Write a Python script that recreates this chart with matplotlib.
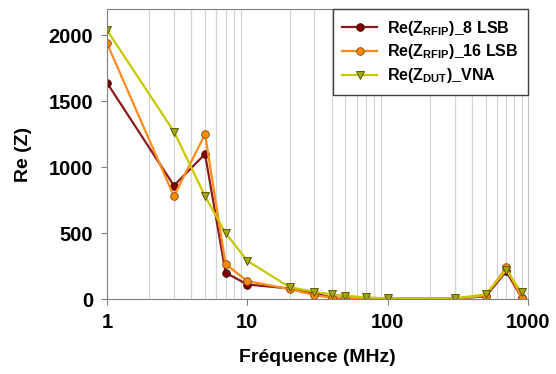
import matplotlib.pyplot as plt
from matplotlib.ticker import FixedLocator, NullFormatter

plt.rcParams['font.family'] = 'Liberation Sans'
plt.rcParams['font.weight'] = 'bold'
plt.rcParams['axes.labelweight'] = 'bold'
plt.rcParams['mathtext.fontset'] = 'custom'
plt.rcParams['mathtext.rm'] = 'Liberation Sans:bold'
plt.rcParams['mathtext.bf'] = 'Liberation Sans:bold'

freq = [1, 3, 5, 7, 10, 20, 30, 40, 50, 70, 100, 300, 500, 700, 900]
re_rfip_8 = [1640, 860, 1100, 200, 110, 80, 45, 10, 8, 5, 4, 4, 20, 210, 10]
re_rfip_16 = [1940, 780, 1250, 265, 136, 75, 30, 10, 10, 5, 3, 3, 25, 240, 8]
re_dut_vna = [2040, 1270, 780, 500, 290, 90, 55, 35, 25, 12, 5, 5, 35, 220, 50]
legend_labels = [r'Re(Z$_{\mathbf{RFIP}}$)_8 LSB',
                 r'Re(Z$_{\mathbf{RFIP}}$)_16 LSB',
                 r'Re(Z$_{\mathbf{DUT}}$)_VNA']

fig = plt.figure(figsize=(5.56, 3.74), dpi=100)
ax = fig.add_axes([0.1924, 0.2005, 0.7572, 0.7755])

ax.plot(freq, re_rfip_8, 'o-', color='#8b1a1a', lw=1.6, ms=5.5,
        mfc='#800000', mec='#3a0a0a', mew=0.6, label=legend_labels[0])
ax.plot(freq, re_rfip_16, 'o-', color='#ff8c1a', lw=1.6, ms=5.5,
        mfc='#ff8c00', mec='#7a4a10', mew=0.6, label=legend_labels[1])
ax.plot(freq, re_dut_vna, 'v-', color='#c8c800', lw=1.6, ms=6,
        mfc='#a6a600', mec='#4a4a00', mew=0.6, label=legend_labels[2])

ax.set_xscale('log')
ax.set_xlim(1, 1000)
ax.set_ylim(0, 2200)
ax.set_xticks([1, 10, 100, 1000])
ax.set_xticklabels(['1', '10', '100', '1000'])
minor = [m * 10**d for d in range(3) for m in range(2, 10)]
ax.xaxis.set_minor_locator(FixedLocator(minor))
ax.xaxis.set_minor_formatter(NullFormatter())
ax.set_yticks([0, 500, 1000, 1500, 2000])

ax.grid(True, which='minor', axis='x', color='#d4d4d4', lw=0.9)
ax.tick_params(axis='x', which='minor', length=0)
ax.tick_params(axis='both', which='major', labelsize=14.5, length=4,
               color='#808080', pad=6)

for side in ['left', 'bottom', 'top', 'right']:
    ax.spines[side].set_color('#808080')
ax.spines['right'].set_color('#c0c0c0')

ax.set_xlabel('Fréquence (MHz)', fontsize=14, labelpad=12)
ax.set_ylabel('Re (Z)', fontsize=14, labelpad=12)

leg = ax.legend(loc='upper right', bbox_to_anchor=(1.0, 1.0), borderaxespad=0,
                fancybox=False, framealpha=1, edgecolor='#404040',
                prop={'size': 11.5, 'weight': 'bold'}, handlelength=2.2,
                handletextpad=0.6, labelspacing=0.3, borderpad=0.6)
leg.get_frame().set_linewidth(1.0)

fig.savefig('out.png', dpi=100)
